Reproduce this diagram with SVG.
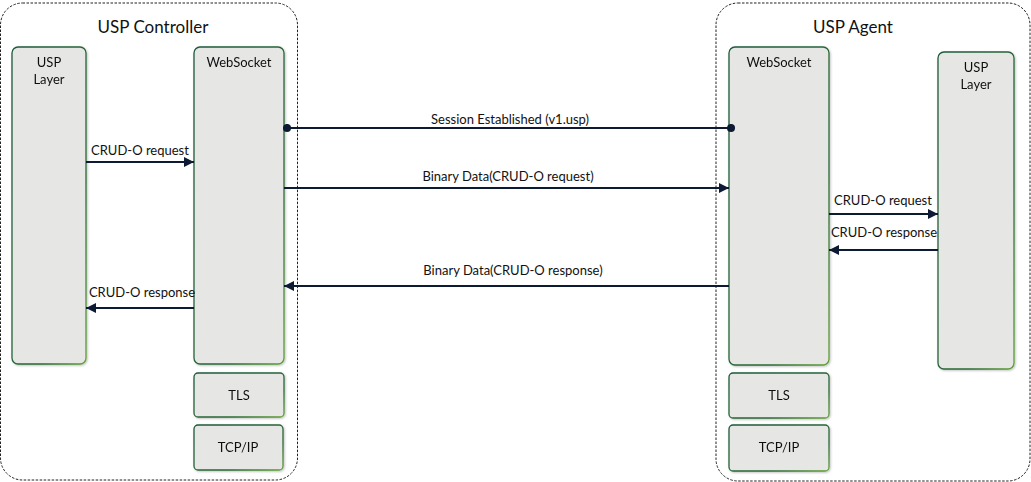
<svg xmlns="http://www.w3.org/2000/svg" width="1031" height="482" viewBox="0 0 1031 482">
  <style>
    .box { fill: none; stroke: #222; stroke-width: 1; stroke-dasharray: 2.5 1.5; }
    .node { fill: #e6e6e4; stroke: url(#edge); stroke-width: 1.3; }
    .title { font-family: "Lato", "Liberation Sans", sans-serif; font-size: 17px; fill: #111; text-anchor: middle; }
    .lbl { font-family: "Lato", "Liberation Sans", sans-serif; font-size: 13px; fill: #111; text-anchor: middle; }
    .wire { stroke: #0d1a33; stroke-width: 2; fill: none; }
  </style>
  <defs>
    <linearGradient id="edge" x1="0" y1="0" x2="1" y2="1">
      <stop offset="0" stop-color="#1d5a3c"/>
      <stop offset="0.7" stop-color="#2a6a35"/>
      <stop offset="1" stop-color="#5fa034"/>
    </linearGradient>
    <filter id="shadow" x="-10%" y="-10%" width="130%" height="130%">
      <feDropShadow dx="1" dy="1" stdDeviation="0.8" flood-color="#000" flood-opacity="0.25"/>
    </filter>
    <marker id="arrow" viewBox="0 0 10 10" refX="10" refY="5" markerWidth="5" markerHeight="5" orient="auto-start-reverse" markerUnits="strokeWidth">
      <path d="M0,0 L10,5 L0,10 z" fill="#0d1a33"/>
    </marker>
    <marker id="dot" viewBox="0 0 10 10" refX="5" refY="5" markerWidth="4.5" markerHeight="4.5" markerUnits="strokeWidth">
      <circle cx="5" cy="5" r="4.5" fill="#0d1a33"/>
    </marker>
  </defs>

  <!-- containers -->
  <g id="controller">
    <rect class="box" x="0.5" y="3" width="297" height="477" rx="22"/>
    <text class="title" x="153" y="33">USP Controller</text>
  </g>
  <g id="agent">
    <rect class="box" x="716" y="3" width="314" height="478" rx="22"/>
    <text class="title" x="853" y="33">USP Agent</text>
  </g>

  <!-- controller stack -->
  <g id="ctrl-usp-layer" filter="url(#shadow)">
    <rect class="node" x="12" y="47" width="74" height="317" rx="6"/>
    <text class="lbl" x="49" y="67">USP</text>
    <text class="lbl" x="49" y="84">Layer</text>
  </g>
  <g id="ctrl-websocket" filter="url(#shadow)">
    <rect class="node" x="194" y="47" width="90" height="317" rx="6"/>
    <text class="lbl" x="239" y="67">WebSocket</text>
  </g>
  <g id="ctrl-tls" filter="url(#shadow)">
    <rect class="node" x="194" y="373" width="90" height="44" rx="4"/>
    <text class="lbl" x="239" y="400">TLS</text>
  </g>
  <g id="ctrl-tcpip" filter="url(#shadow)">
    <rect class="node" x="194" y="425" width="89" height="45" rx="4"/>
    <text class="lbl" x="238" y="452">TCP/IP</text>
  </g>

  <!-- agent stack -->
  <g id="agent-websocket" filter="url(#shadow)">
    <rect class="node" x="729" y="47" width="100" height="318" rx="6"/>
    <text class="lbl" x="779" y="67">WebSocket</text>
  </g>
  <g id="agent-tls" filter="url(#shadow)">
    <rect class="node" x="729" y="373" width="100" height="45" rx="4"/>
    <text class="lbl" x="779" y="400">TLS</text>
  </g>
  <g id="agent-tcpip" filter="url(#shadow)">
    <rect class="node" x="729" y="425" width="100" height="46" rx="4"/>
    <text class="lbl" x="779" y="452">TCP/IP</text>
  </g>
  <g id="agent-usp-layer" filter="url(#shadow)">
    <rect class="node" x="938" y="52" width="76" height="317" rx="6"/>
    <text class="lbl" x="976" y="72">USP</text>
    <text class="lbl" x="976" y="89">Layer</text>
  </g>

  <!-- connectors -->
  <g id="connectors">
    <path class="wire" d="M287,128 H731" marker-start="url(#dot)" marker-end="url(#dot)"/>
    <text class="lbl" x="510" y="124">Session Established (v1.usp)</text>

    <path class="wire" d="M284,188 H729" marker-end="url(#arrow)"/>
    <text class="lbl" x="508" y="181">Binary Data(CRUD-O request)</text>

    <path class="wire" d="M729,286 H284" marker-end="url(#arrow)"/>
    <text class="lbl" x="513" y="275">Binary Data(CRUD-O response)</text>

    <path class="wire" d="M86,162 H194" marker-end="url(#arrow)"/>
    <text class="lbl" x="140" y="155">CRUD-O request</text>

    <path class="wire" d="M194,308 H86" marker-end="url(#arrow)"/>
    <text class="lbl" x="142" y="297">CRUD-O response</text>

    <path class="wire" d="M829,214 H938" marker-end="url(#arrow)"/>
    <text class="lbl" x="883" y="205">CRUD-O request</text>

    <path class="wire" d="M938,250 H829" marker-end="url(#arrow)"/>
    <text class="lbl" x="884" y="237">CRUD-O response</text>
  </g>
</svg>
